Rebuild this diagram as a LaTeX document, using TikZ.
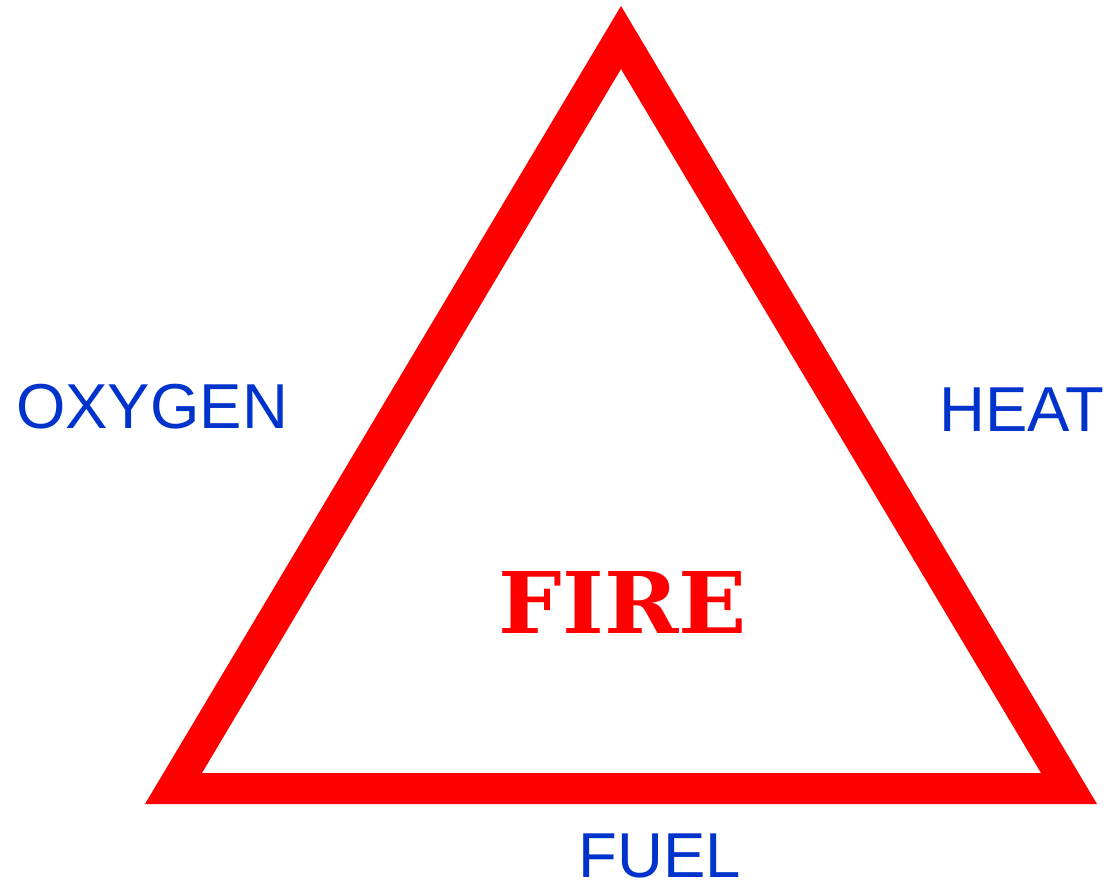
\documentclass[tikz,border=0pt]{standalone}
\usepackage{fontspec}
\setmainfont{Liberation Sans}
\newfontfamily\firefont{DejaVu Serif}
\definecolor{firered}{HTML}{FF0000}
\definecolor{labelblue}{HTML}{0033CC}
\begin{document}
\begin{tikzpicture}[x=1pt,y=-1pt,
  sidelabel/.style={text=labelblue, inner sep=0pt, text height=46pt, text depth=0pt,
    font=\fontsize{63.5}{76}\selectfont},
  firelabel/.style={text=firered, inner sep=0pt, text height=62pt, text depth=0pt}]
\useasboundingbox (0,0) rectangle (1117,882);
\fill[firered, even odd rule]
  (621,6) -- (145,804) -- (1097,804) -- cycle
  (621,69) -- (202,773) -- (1041,773) -- cycle;
\node[firelabel] (fire) at (623,602) {\resizebox{248pt}{62pt}{\firefont\bfseries FIRE}};
\node[sidelabel] (oxygen) at (152,406) {OXYGEN};
\node[sidelabel] (heat) at (1022,409) {HEAT};
\node[sidelabel] (fuel) at (660,854) {FUEL};
\end{tikzpicture}
\end{document}
